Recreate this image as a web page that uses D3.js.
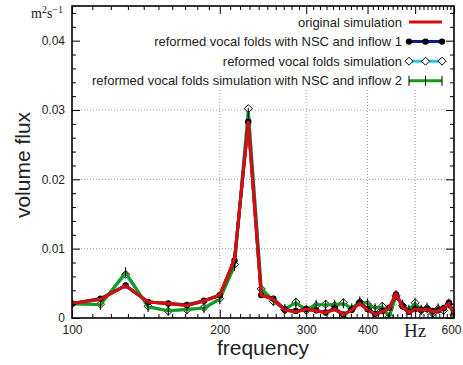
<!DOCTYPE html>
<html>
<head>
<meta charset="utf-8">
<script src="https://cdn.jsdelivr.net/npm/d3@7"></script>
<style>
  body { margin: 0; background: #fff; }
  svg text { font-family: "Liberation Sans", Arial, sans-serif; fill: #222; }
</style>
</head>
<body>
<div class="container"></div>
<script>
// frequency bins (Hz)
var freqs = [100, 114.3, 128.6, 142.9, 157.1, 171.4, 185.7, 200, 214.3, 228.6, 242.9, 257.1,
             271.4, 285.7, 300, 314.3, 328.6, 342.9, 357.1, 371.4, 385.7, 400, 414.3, 428.6,
             442.9, 457.1, 471.4, 485.7, 500, 514.3, 528.6, 542.9, 557.1, 571.4, 585.7, 600];

// volume flux, m^2 s^-1
var original = [0.0021, 0.0027, 0.00466, 0.0023, 0.0021, 0.0018, 0.00245, 0.0033, 0.0085, 0.0282, 0.0033, 0.0027,
                0.00115, 0.0009, 0.00125, 0.00105, 0.00077, 0.00125, 0.00043, 0.00115, 0.0021, 0.00115, 0.00053, 0.0009,
                0.0014, 0.0035, 0.0016, 0.00077, 0.00125, 0.00115, 0.00125, 0.0009, 0.001, 0.0014, 0.0021, 0.0007];
var inflow1 = [0.0021, 0.0028, 0.0047, 0.0023, 0.0021, 0.0019, 0.0025, 0.0033, 0.0083, 0.0283, 0.0033, 0.0028,
               0.0012, 0.0010, 0.0013, 0.0011, 0.0008, 0.0014, 0.0005, 0.0012, 0.0022, 0.0013, 0.0006, 0.0010,
               0.0015, 0.0034, 0.0017, 0.0009, 0.0013, 0.0012, 0.0013, 0.0010, 0.0011, 0.0014, 0.0022, 0.0008];
var reformed = [0.0020, 0.0020, 0.0063, 0.0017, 0.0010, 0.0012, 0.0015, 0.0028, 0.0077, 0.0302, 0.0042, 0.0024,
                0.0012, 0.0023, 0.0011, 0.0018, 0.0020, 0.0018, 0.0022, 0.0013, 0.0023, 0.0020, 0.0013, 0.0017,
                0.0002, 0.0032, 0.0018, 0.0011, 0.0022, 0.0011, 0.0014, 0.0007, 0.0013, 0.0011, 0.0020, 0.0005];
var inflow2 = [0.0021, 0.0019, 0.0066, 0.0016, 0.00105, 0.00125, 0.0014, 0.0027, 0.0075, 0.0296, 0.0043, 0.0025,
               0.0013, 0.0022, 0.0012, 0.0019, 0.0019, 0.0019, 0.0021, 0.0014, 0.0024, 0.0021, 0.0014, 0.0016,
               0.0001, 0.0033, 0.0019, 0.0012, 0.0021, 0.0012, 0.0015, 0.0006, 0.0014, 0.0012, 0.0021, 0.0004];

var xMajor = [100, 200, 300, 400, 500, 600];
var xLabels = ['100', '200', '300', '400', '', '600'];
var yMajor = [0, 0.01, 0.02, 0.03, 0.04];
var yLabels = ['0', '0.01', '0.02', '0.03', '0.04'];
var legendNames = ['original simulation',
                   'reformed vocal folds with NSC and inflow 1',
                   'reformed vocal folds simulation',
                   'reformed vocal folds simulation with NSC and inflow 2'];

var xMinor = d3.range(110, 600, 10).filter(function(d) { return d % 100 !== 0; });
var yMinor = d3.range(0, 0.0451, 0.002).filter(function(d) { return Math.abs(d * 100 - Math.round(d * 100)) > 1e-9; });

var L = 72, R = 454, T = 6, B = 318;

var svg = d3.select('.container')
            .append('svg')
                .attr('width', 463)
                .attr('height', 365);

var x = d3.scaleLog().domain([100, 600]).range([L, R]);
var y = d3.scaleLinear().domain([0, 0.045]).range([B, T]);

// grid
svg.append('g').selectAll('line')
    .data(xMajor.slice(1, 5))
    .enter().append('line')
        .attr('x1', function(d) { return x(d); })
        .attr('x2', function(d) { return x(d); })
        .attr('y1', T).attr('y2', B)
        .style('stroke', '#999').style('stroke-width', 1).style('stroke-dasharray', '1,2');
svg.append('g').selectAll('line')
    .data(yMajor.slice(1))
    .enter().append('line')
        .attr('x1', L).attr('x2', R)
        .attr('y1', function(d) { return y(d); })
        .attr('y2', function(d) { return y(d); })
        .style('stroke', '#999').style('stroke-width', 1).style('stroke-dasharray', '1,2');

// opaque key box
svg.append('rect')
    .attr('x', L + 1).attr('y', T + 1)
    .attr('width', R - L - 2).attr('height', 83)
    .style('fill', '#fff');

svg.append('clipPath').attr('id', 'clip')
    .append('rect').attr('x', L).attr('y', T).attr('width', R - L).attr('height', B - T);

var line = d3.line()
    .x(function(d, i) { return x(freqs[i]); })
    .y(function(d) { return y(d); });

var plot = svg.append('g').attr('clip-path', 'url(#clip)');

var series = [
    { data: reformed, color: '#22c8e8', marker: 'diamond' },
    { data: inflow2, color: '#1a9a1a', marker: 'bar' },
    { data: inflow1, color: '#0a1a8c', marker: 'dot' },
    { data: original, color: '#d01010', marker: 'none' }
];

function drawMarker(g, kind, cx, cy) {
    if (kind === 'dot') {
        g.append('circle').attr('cx', cx).attr('cy', cy).attr('r', 3.2).style('fill', '#000');
    } else if (kind === 'diamond') {
        g.append('path')
            .attr('d', 'M' + cx + ',' + (cy - 4) + 'L' + (cx + 4) + ',' + cy + 'L' + cx + ',' + (cy + 4) + 'L' + (cx - 4) + ',' + cy + 'Z')
            .style('fill', '#fff').style('stroke', '#000').style('stroke-width', 1);
    } else if (kind === 'bar') {
        g.append('line').attr('x1', cx).attr('x2', cx).attr('y1', cy - 5).attr('y2', cy + 5)
            .style('stroke', '#000').style('stroke-width', 1);
    }
}

series.forEach(function(s) {
    plot.append('path')
        .datum(s.data)
        .attr('d', line)
        .style('fill', 'none')
        .style('stroke', s.color)
        .style('stroke-width', 3)
        .style('stroke-linejoin', 'round');
    var mg = plot.append('g');
    s.data.forEach(function(v, i) { drawMarker(mg, s.marker, x(freqs[i]), y(v)); });
});
// red on top of every marker
plot.append('path')
    .datum(original)
    .attr('d', line)
    .style('fill', 'none')
    .style('stroke', '#d01010')
    .style('stroke-width', 3)
    .style('stroke-linejoin', 'round');

// axes, ticks inward on all four sides
function styleAxis(g) {
    g.select('.domain').remove();
    g.selectAll('line').style('stroke', '#000').style('stroke-width', 1);
    g.selectAll('text').style('font-size', '12px').style('font-family', '"Liberation Sans", Arial, sans-serif').style('fill', '#222');
}

var bottom = svg.append('g').attr('transform', 'translate(0,' + B + ')')
    .call(d3.axisBottom(x).tickValues(xMajor).tickSize(-8).tickPadding(7)
        .tickFormat(function(d, i) { return xLabels[i]; }))
    .call(styleAxis);
// keep 600 inside the window
bottom.selectAll('text').filter(function(d) { return d === 600; }).attr('dx', -3);

svg.append('g').attr('transform', 'translate(0,' + B + ')')
    .call(d3.axisBottom(x).tickValues(xMinor).tickSize(-4).tickFormat(''))
    .call(styleAxis);
svg.append('g').attr('transform', 'translate(0,' + T + ')')
    .call(d3.axisTop(x).tickValues(xMajor).tickSize(-8).tickFormat(''))
    .call(styleAxis);
svg.append('g').attr('transform', 'translate(0,' + T + ')')
    .call(d3.axisTop(x).tickValues(xMinor).tickSize(-4).tickFormat(''))
    .call(styleAxis);

svg.append('g').attr('transform', 'translate(' + L + ',0)')
    .call(d3.axisLeft(y).tickValues(yMajor).tickSize(-8).tickPadding(7)
        .tickFormat(function(d, i) { return yLabels[i]; }))
    .call(styleAxis);
svg.append('g').attr('transform', 'translate(' + L + ',0)')
    .call(d3.axisLeft(y).tickValues(yMinor).tickSize(-4).tickFormat(''))
    .call(styleAxis);
svg.append('g').attr('transform', 'translate(' + R + ',0)')
    .call(d3.axisRight(y).tickValues(yMajor).tickSize(-8).tickFormat(''))
    .call(styleAxis);
svg.append('g').attr('transform', 'translate(' + R + ',0)')
    .call(d3.axisRight(y).tickValues(yMinor).tickSize(-4).tickFormat(''))
    .call(styleAxis);

svg.append('rect')
    .attr('x', L).attr('y', T).attr('width', R - L).attr('height', B - T)
    .style('fill', 'none').style('stroke', '#000').style('stroke-width', 1.6);

// units
svg.append('text')
    .attr('x', x(500)).attr('y', 337)
    .attr('text-anchor', 'middle')
    .style('font-family', '"Liberation Serif", "DejaVu Serif", serif')
    .style('font-size', '19px')
    .text('Hz');

var unit = svg.append('text')
    .attr('x', 63).attr('y', 18)
    .attr('text-anchor', 'end')
    .style('font-family', '"Liberation Serif", "DejaVu Serif", serif')
    .style('font-size', '14px');
unit.append('tspan').text('m');
unit.append('tspan').attr('dy', -5).style('font-size', '10px').text('2');
unit.append('tspan').attr('dy', 5).text('s');
unit.append('tspan').attr('dy', -5).style('font-size', '10px').text('\u22121');

// axis titles
svg.append('text')
    .attr('x', 263).attr('y', 355)
    .attr('text-anchor', 'middle')
    .style('font-size', '21px')
    .text('frequency');
svg.append('text')
    .attr('transform', 'translate(30,165) rotate(-90)')
    .attr('text-anchor', 'middle')
    .style('font-size', '21px')
    .text('volume flux');

// key
var keyMarkers = ['none', 'dot', 'diamond', 'bar'];
var keyColors = ['#d01010', '#0a1a8c', '#22c8e8', '#1a9a1a'];
legendNames.forEach(function(name, i) {
    var ky = 22 + i * 19.6;
    svg.append('text')
        .attr('x', 402).attr('y', ky + 4.5)
        .attr('text-anchor', 'end')
        .style('font-size', '13px')
        .text(name);
    svg.append('line')
        .attr('x1', 409).attr('x2', 442).attr('y1', ky).attr('y2', ky)
        .style('stroke', keyColors[i]).style('stroke-width', 3);
    var g = svg.append('g');
    [409, 425.5, 442].forEach(function(px) { drawMarker(g, keyMarkers[i], px, ky); });
});
</script>
</body>
</html>
